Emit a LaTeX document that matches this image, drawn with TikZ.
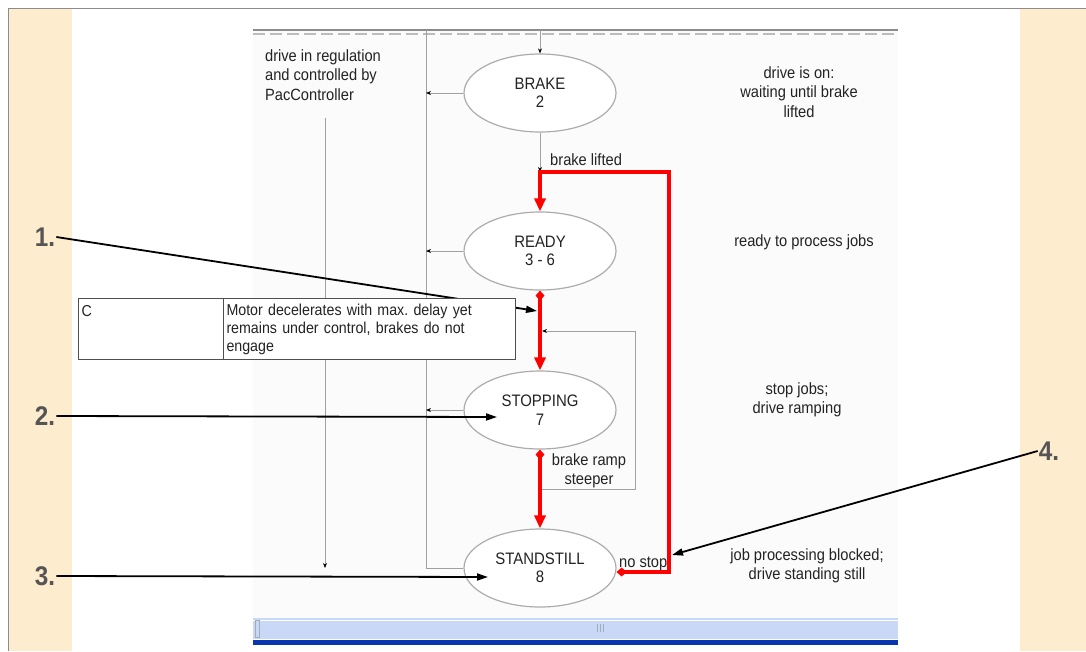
\documentclass[tikz,border=0pt]{standalone}
\usepackage{fontspec}
\setmainfont{Liberation Sans}[FakeStretch=0.9]
\frenchspacing
\usetikzlibrary{positioning,arrows.meta,shapes.geometric}
\definecolor{beige}{RGB}{253,236,206}
\definecolor{framegray}{RGB}{140,140,140}
\definecolor{wiregray}{RGB}{160,160,160}
\definecolor{rimgray}{RGB}{172,172,172}
\definecolor{ink}{RGB}{35,35,35}
\definecolor{numgray}{RGB}{85,85,85}
\definecolor{barblue}{RGB}{200,216,246}
\definecolor{darkbar}{RGB}{10,55,175}
\definecolor{screen}{RGB}{251,251,251}

\begin{document}
\begin{tikzpicture}[x=1pt, y=-1pt,
  st/.style={ellipse, draw=rimgray, line width=1.2pt, fill=white, minimum width=152pt, minimum height=78pt, inner sep=0pt, align=center, text=ink, font=\fontsize{16.6}{18.5}\selectfont},
  note/.style={align=center, text=ink, font=\fontsize{16.3}{19.5}\selectfont, inner sep=0pt},
  num/.style={font=\fontsize{27}{27}\selectfont\bfseries, text=numgray, inner sep=1pt},
  cell/.style={draw=ink!80, line width=1pt, fill=white, inner sep=3pt, align=left, text=ink, font=\fontsize{15.8}{18}\selectfont, minimum height=61pt},
  wire/.style={draw=wiregray, line width=0.9pt},
  warr/.style={wire, -{Stealth[length=5pt, width=4pt, color=black]}},
  rarr/.style={draw=red, line width=3.2pt, {Diamond[length=10pt, width=9pt]}-{Triangle[length=13pt, width=11pt]}},
  callout/.style={draw=black, line width=1.8pt, -{Triangle[length=11pt, width=7pt]}}]
\useasboundingbox (0,0) rectangle (1086,651);
\fill[white] (0,0) rectangle (1086,651);
\fill[beige] (8,8) rectangle (72,651);
\fill[beige] (1020,8) rectangle (1086,651);
\draw[framegray, line width=1pt] (8,651) -- (8,8) -- (1086,8);
\fill[screen] (253,30) rectangle (898,618);
\draw[framegray, line width=1.5pt] (253,30) -- (898,30);
\draw[wiregray!70, line width=2pt, dash pattern=on 12pt off 5pt] (253,33.5) -- (898,33.5);
\fill[barblue] (253,618) rectangle (898,639);
\draw[white, line width=1pt] (253,620) -- (898,620);
\draw[barblue!50!gray, line width=0.6pt] (255,620) rectangle (259,637);
\foreach \gx in {597,600,603} \draw[barblue!50!gray] (\gx,624) -- (\gx,632);
\fill[darkbar] (253,640) rectangle (898,645);

\node[st] (brake) at (540,93) {BRAKE\\2};
\node[st] (ready) at (540,251) {READY\\3 - 6};
\node[st] (stop) at (540,410) {STOPPING\\7};
\node[st] (still) at (540,568) {STANDSTILL\\8};

\node[note, align=left] (ctl) at (323,75) {drive in regulation\\and controlled by\\PacController};
\node[note] (n1) at (799,92) {drive is on:\\waiting until brake\\lifted};
\node[note] (n2) at (804,242) {ready to process jobs};
\node[note] (n3) at (797,400) {stop jobs;\\drive ramping};
\node[note] (n4) at (807,566) {job processing blocked;\\drive standing still};

\coordinate (in) at (540,30);
\coordinate (bus) at (426,30);
\coordinate (rl) at (540,172);
\coordinate (rt) at (669,172);
\coordinate (lt) at (542,331);
\coordinate (lp) at (635,331);
\coordinate (lb) at (540,489);
\coordinate (ct) at (325,118);
\coordinate (cb) at (325,568);

\draw[warr] (in) -- (brake.north);
\draw[warr] (brake.south) -- (rl);
\draw[wire] (bus) |- (still.west);
\foreach \s in {brake,ready,stop} \draw[warr] (\s.west) -- (\s.west -| bus);
\draw[warr] (lb) -| (lp) -- (lt);
\draw[warr] (ct) -- (cb);

\node[note, anchor=west] (lift) at (550,160) {brake lifted};
\node[note] (ramp) at (589,471) {brake ramp\\steeper};
\node[note, anchor=base west] (nostop) at (619,567) {no stop};

\draw[rarr] ([yshift=-4pt]still.east) -| (rt) -- (rl) -- (ready.north);
\draw[rarr] (ready.south) -- (stop.north);
\draw[rarr] (stop.south) -- (still.north);

\node[num] (m1) at (45,237) {1.};
\node[num] (m2) at (45,416) {2.};
\node[num] (m3) at (45,576) {3.};
\node[num] (m4) at (1049,451) {4.};
\coordinate (t1) at (537,311);
\coordinate (t2) at (497,417);
\coordinate (t3) at (488,577);
\coordinate (t4) at (672,555);
\draw[callout] (m1.east) -- (t1);
\draw[callout] (m2.east) -- (t2);
\draw[callout] (m3.east) -- (t3);
\draw[callout] (m4.west) -- (t4);

\node[cell, anchor=north west, text width=139pt] (tc) at (78,298) {C\\~\\~};
\node[cell, right=-1pt of tc, text width=286pt] (tm) {Motor decelerates with max. delay yet\\remains under control, brakes do not\\engage};
\end{tikzpicture}
\end{document}
